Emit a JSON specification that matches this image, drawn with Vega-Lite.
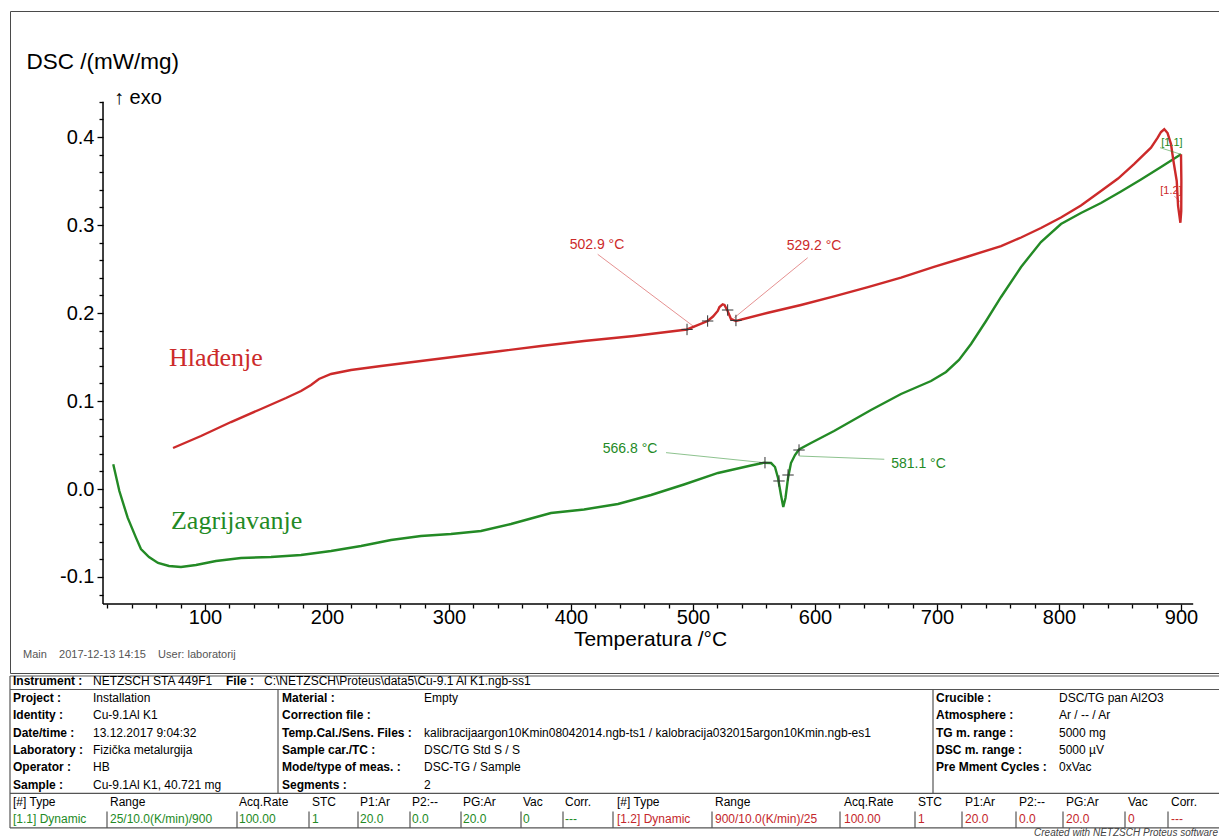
{
"$schema": "https://vega.github.io/schema/vega-lite/v6.json",
"background": "white",
"padding": {"left": 9, "top": 10, "right": 0, "bottom": 0},
"spacing": 0,
"config": {"view": {"stroke": null}, "font": "Liberation Sans"},
"datasets": {
"curves": [
{"s":"Zagrijavanje","i":1,"T":24.8,"v":0.0281},
{"s":"Zagrijavanje","i":2,"T":29.8,"v":-0.0023},
{"s":"Zagrijavanje","i":3,"T":36.6,"v":-0.0326},
{"s":"Zagrijavanje","i":4,"T":43.4,"v":-0.0553},
{"s":"Zagrijavanje","i":5,"T":47.5,"v":-0.0682},
{"s":"Zagrijavanje","i":6,"T":54.1,"v":-0.0773},
{"s":"Zagrijavanje","i":7,"T":61.5,"v":-0.0841},
{"s":"Zagrijavanje","i":8,"T":70.5,"v":-0.0875},
{"s":"Zagrijavanje","i":9,"T":80.3,"v":-0.0886},
{"s":"Zagrijavanje","i":10,"T":92.6,"v":-0.0864},
{"s":"Zagrijavanje","i":11,"T":109.0,"v":-0.0818},
{"s":"Zagrijavanje","i":12,"T":129.5,"v":-0.0784},
{"s":"Zagrijavanje","i":13,"T":154.1,"v":-0.0773},
{"s":"Zagrijavanje","i":14,"T":178.7,"v":-0.0750},
{"s":"Zagrijavanje","i":15,"T":203.3,"v":-0.0705},
{"s":"Zagrijavanje","i":16,"T":227.9,"v":-0.0648},
{"s":"Zagrijavanje","i":17,"T":252.5,"v":-0.0580},
{"s":"Zagrijavanje","i":18,"T":277.0,"v":-0.0534},
{"s":"Zagrijavanje","i":19,"T":301.6,"v":-0.0511},
{"s":"Zagrijavanje","i":20,"T":326.2,"v":-0.0477},
{"s":"Zagrijavanje","i":21,"T":350.8,"v":-0.0398},
{"s":"Zagrijavanje","i":22,"T":367.2,"v":-0.0335},
{"s":"Zagrijavanje","i":23,"T":383.6,"v":-0.0273},
{"s":"Zagrijavanje","i":24,"T":410.7,"v":-0.0233},
{"s":"Zagrijavanje","i":25,"T":438.5,"v":-0.0170},
{"s":"Zagrijavanje","i":26,"T":465.6,"v":-0.0068},
{"s":"Zagrijavanje","i":27,"T":492.6,"v":0.0051},
{"s":"Zagrijavanje","i":28,"T":520.5,"v":0.0182},
{"s":"Zagrijavanje","i":29,"T":547.5,"v":0.0267},
{"s":"Zagrijavanje","i":30,"T":558.2,"v":0.0299},
{"s":"Zagrijavanje","i":31,"T":564.0,"v":0.0295},
{"s":"Zagrijavanje","i":32,"T":567.2,"v":0.0250},
{"s":"Zagrijavanje","i":33,"T":569.7,"v":0.0125},
{"s":"Zagrijavanje","i":34,"T":572.1,"v":-0.0068},
{"s":"Zagrijavanje","i":35,"T":574.0,"v":-0.0205},
{"s":"Zagrijavanje","i":36,"T":575.8,"v":-0.0102},
{"s":"Zagrijavanje","i":37,"T":577.9,"v":0.0125},
{"s":"Zagrijavanje","i":38,"T":580.3,"v":0.0295},
{"s":"Zagrijavanje","i":39,"T":583.6,"v":0.0386},
{"s":"Zagrijavanje","i":40,"T":586.9,"v":0.0449},
{"s":"Zagrijavanje","i":41,"T":596.7,"v":0.0523},
{"s":"Zagrijavanje","i":42,"T":615.6,"v":0.0659},
{"s":"Zagrijavanje","i":43,"T":645.9,"v":0.0898},
{"s":"Zagrijavanje","i":44,"T":670.5,"v":0.1080},
{"s":"Zagrijavanje","i":45,"T":695.1,"v":0.1227},
{"s":"Zagrijavanje","i":46,"T":707.4,"v":0.1330},
{"s":"Zagrijavanje","i":47,"T":718.0,"v":0.1466},
{"s":"Zagrijavanje","i":48,"T":727.9,"v":0.1648},
{"s":"Zagrijavanje","i":49,"T":740.2,"v":0.1909},
{"s":"Zagrijavanje","i":50,"T":752.5,"v":0.2182},
{"s":"Zagrijavanje","i":51,"T":768.9,"v":0.2523},
{"s":"Zagrijavanje","i":52,"T":785.2,"v":0.2807},
{"s":"Zagrijavanje","i":53,"T":801.6,"v":0.3011},
{"s":"Zagrijavanje","i":54,"T":818.0,"v":0.3136},
{"s":"Zagrijavanje","i":55,"T":834.4,"v":0.3250},
{"s":"Zagrijavanje","i":56,"T":850.8,"v":0.3381},
{"s":"Zagrijavanje","i":57,"T":867.2,"v":0.3517},
{"s":"Zagrijavanje","i":58,"T":883.6,"v":0.3659},
{"s":"Zagrijavanje","i":59,"T":900.0,"v":0.3803},
{"s":"Hlađenje","i":1,"T":900.0,"v":0.3803},
{"s":"Hlađenje","i":2,"T":900.3,"v":0.3500},
{"s":"Hlađenje","i":3,"T":900.2,"v":0.3159},
{"s":"Hlađenje","i":4,"T":899.5,"v":0.3026},
{"s":"Hlađenje","i":5,"T":897.6,"v":0.3216},
{"s":"Hlađenje","i":6,"T":896.5,"v":0.3500},
{"s":"Hlađenje","i":7,"T":893.8,"v":0.3727},
{"s":"Hlađenje","i":8,"T":891.8,"v":0.3920},
{"s":"Hlađenje","i":9,"T":889.0,"v":0.4045},
{"s":"Hlađenje","i":10,"T":886.3,"v":0.4088},
{"s":"Hlađenje","i":11,"T":883.6,"v":0.4057},
{"s":"Hlađenje","i":12,"T":880.9,"v":0.3992},
{"s":"Hlađenje","i":13,"T":875.4,"v":0.3878},
{"s":"Hlađenje","i":14,"T":861.5,"v":0.3693},
{"s":"Hlađenje","i":15,"T":848.4,"v":0.3528},
{"s":"Hlađenje","i":16,"T":834.4,"v":0.3386},
{"s":"Hlađenje","i":17,"T":818.0,"v":0.3222},
{"s":"Hlađenje","i":18,"T":801.6,"v":0.3085},
{"s":"Hlađenje","i":19,"T":785.2,"v":0.2966},
{"s":"Hlađenje","i":20,"T":768.9,"v":0.2858},
{"s":"Hlađenje","i":21,"T":752.5,"v":0.2761},
{"s":"Hlađenje","i":22,"T":725.4,"v":0.2642},
{"s":"Hlađenje","i":23,"T":697.5,"v":0.2523},
{"s":"Hlađenje","i":24,"T":670.5,"v":0.2403},
{"s":"Hlađenje","i":25,"T":643.4,"v":0.2295},
{"s":"Hlađenje","i":26,"T":615.6,"v":0.2188},
{"s":"Hlađenje","i":27,"T":588.5,"v":0.2091},
{"s":"Hlađenje","i":28,"T":561.5,"v":0.2003},
{"s":"Hlađenje","i":29,"T":535.2,"v":0.1909},
{"s":"Hlađenje","i":30,"T":531.1,"v":0.1932},
{"s":"Hlađenje","i":31,"T":528.4,"v":0.2023},
{"s":"Hlađenje","i":32,"T":525.8,"v":0.2091},
{"s":"Hlađenje","i":33,"T":524.3,"v":0.2099},
{"s":"Hlađenje","i":34,"T":521.7,"v":0.2068},
{"s":"Hlađenje","i":35,"T":520.3,"v":0.2023},
{"s":"Hlađenje","i":36,"T":516.4,"v":0.1960},
{"s":"Hlađenje","i":37,"T":512.0,"v":0.1909},
{"s":"Hlađenje","i":38,"T":495.1,"v":0.1813},
{"s":"Hlađenje","i":39,"T":451.6,"v":0.1739},
{"s":"Hlađenje","i":40,"T":410.7,"v":0.1682},
{"s":"Hlađenje","i":41,"T":375.4,"v":0.1625},
{"s":"Hlađenje","i":42,"T":342.6,"v":0.1568},
{"s":"Hlađenje","i":43,"T":309.8,"v":0.1511},
{"s":"Hlađenje","i":44,"T":277.0,"v":0.1455},
{"s":"Hlađenje","i":45,"T":244.3,"v":0.1398},
{"s":"Hlađenje","i":46,"T":219.7,"v":0.1352},
{"s":"Hlađenje","i":47,"T":203.3,"v":0.1307},
{"s":"Hlađenje","i":48,"T":193.4,"v":0.1250},
{"s":"Hlađenje","i":49,"T":186.9,"v":0.1182},
{"s":"Hlađenje","i":50,"T":178.7,"v":0.1114},
{"s":"Hlađenje","i":51,"T":166.4,"v":0.1034},
{"s":"Hlađenje","i":52,"T":145.9,"v":0.0909},
{"s":"Hlađenje","i":53,"T":121.3,"v":0.0761},
{"s":"Hlađenje","i":54,"T":96.7,"v":0.0602},
{"s":"Hlađenje","i":55,"T":73.8,"v":0.0466}
],
"axisLines": [
{"T":16.4,"v":-0.1307,"T2":910,"v2":-0.1307},
{"T":16.4,"v":-0.1307,"T2":16.4,"v2":0.44}
],
"leaders": [
{"s":"Hlađenje","T":421.9,"v":0.2667,"T2":501.1,"v2":0.1841},
{"s":"Hlađenje","T":594.0,"v":0.2628,"T2":533.9,"v2":0.1947},
{"s":"Zagrijavanje","T":477.9,"v":0.0413,"T2":558.4,"v2":0.0299},
{"s":"Zagrijavanje","T":656.8,"v":0.0338,"T2":587.1,"v2":0.0375},
{"s":"Zagrijavanje","T":882.8,"v":0.3879,"T2":900,"v2":0.3803},
{"s":"Hlađenje","T":894.5,"v":0.333,"T2":900,"v2":0.3253}
],
"crosses": [
{"T":495.1,"v":0.1813},{"T":512.0,"v":0.1909},{"T":528.4,"v":0.2034},{"T":535.2,"v":0.1915},
{"T":559.0,"v":0.0299},{"T":570.5,"v":0.0091},{"T":577.9,"v":0.0159},{"T":586.9,"v":0.0443}
],
"labels": [
{"k":"name","s":"Hlađenje","t":"Hlađenje","T":70.5,"v":0.1489},
{"k":"name","s":"Zagrijavanje","t":"Zagrijavanje","T":72.1,"v":-0.0364},
{"k":"temp","s":"Hlađenje","t":"502.9 °C","T":421.3,"v":0.2773},
{"k":"temp","s":"Hlađenje","t":"529.2 °C","T":599.2,"v":0.2761},
{"k":"temp","s":"Zagrijavanje","t":"566.8 °C","T":448.4,"v":0.0455},
{"k":"temp","s":"Zagrijavanje","t":"581.1 °C","T":684.8,"v":0.0288},
{"k":"seg","s":"Zagrijavanje","t":"[1.1]","T":892.6,"v":0.3935},
{"k":"seg","s":"Hlađenje","t":"[1.2]","T":891.8,"v":0.3386}
],
"notes": [
{"k":"exo","t":"↑ exo","T":25.4,"v":0.4447},
{"k":"main","t":"Main\u00a0\u00a0\u00a0\u00a02017-12-13 14:15\u00a0\u00a0\u00a0\u00a0User: laboratorij","T":-49.2,"v":-0.1886}
],
"table": [
{"x":3,"r":0,"t":"Instrument :","k":"label"},
{"x":83,"r":0,"t":"NETZSCH STA 449F1","k":"value"},
{"x":216,"r":0,"t":"File :","k":"label"},
{"x":254,"r":0,"t":"C:\\NETZSCH\\Proteus\\data5\\Cu-9.1 Al K1.ngb-ss1","k":"value"},
{"x":3,"r":1,"t":"Project :","k":"label"},
{"x":83,"r":1,"t":"Installation","k":"value"},
{"x":272,"r":1,"t":"Material :","k":"label"},
{"x":414,"r":1,"t":"Empty","k":"value"},
{"x":926,"r":1,"t":"Crucible :","k":"label"},
{"x":1049,"r":1,"t":"DSC/TG pan Al2O3","k":"value"},
{"x":3,"r":2,"t":"Identity :","k":"label"},
{"x":83,"r":2,"t":"Cu-9.1Al K1","k":"value"},
{"x":272,"r":2,"t":"Correction file :","k":"label"},
{"x":926,"r":2,"t":"Atmosphere :","k":"label"},
{"x":1049,"r":2,"t":"Ar / -- / Ar","k":"value"},
{"x":3,"r":3,"t":"Date/time :","k":"label"},
{"x":83,"r":3,"t":"13.12.2017 9:04:32","k":"value"},
{"x":272,"r":3,"t":"Temp.Cal./Sens. Files :","k":"label"},
{"x":414,"r":3,"t":"kalibracijaargon10Kmin08042014.ngb-ts1 / kalobracija032015argon10Kmin.ngb-es1","k":"value"},
{"x":926,"r":3,"t":"TG m. range :","k":"label"},
{"x":1049,"r":3,"t":"5000 mg","k":"value"},
{"x":3,"r":4,"t":"Laboratory :","k":"label"},
{"x":83,"r":4,"t":"Fizička metalurgija","k":"value"},
{"x":272,"r":4,"t":"Sample car./TC :","k":"label"},
{"x":414,"r":4,"t":"DSC/TG Std S / S","k":"value"},
{"x":926,"r":4,"t":"DSC m. range :","k":"label"},
{"x":1049,"r":4,"t":"5000 µV","k":"value"},
{"x":3,"r":5,"t":"Operator :","k":"label"},
{"x":83,"r":5,"t":"HB","k":"value"},
{"x":272,"r":5,"t":"Mode/type of meas. :","k":"label"},
{"x":414,"r":5,"t":"DSC-TG / Sample","k":"value"},
{"x":926,"r":5,"t":"Pre Mment Cycles :","k":"label"},
{"x":1049,"r":5,"t":"0xVac","k":"value"},
{"x":3,"r":6,"t":"Sample :","k":"label"},
{"x":83,"r":6,"t":"Cu-9.1Al K1, 40.721 mg","k":"value"},
{"x":272,"r":6,"t":"Segments :","k":"label"},
{"x":414,"r":6,"t":"2","k":"value"},
{"x":3,"r":7,"t":"[#] Type","k":"value"},
{"x":100,"r":7,"t":"Range","k":"value"},
{"x":229,"r":7,"t":"Acq.Rate","k":"value"},
{"x":302,"r":7,"t":"STC","k":"value"},
{"x":350,"r":7,"t":"P1:Ar","k":"value"},
{"x":402,"r":7,"t":"P2:--","k":"value"},
{"x":453,"r":7,"t":"PG:Ar","k":"value"},
{"x":513,"r":7,"t":"Vac","k":"value"},
{"x":555,"r":7,"t":"Corr.","k":"value"},
{"x":607,"r":7,"t":"[#] Type","k":"value"},
{"x":705,"r":7,"t":"Range","k":"value"},
{"x":834,"r":7,"t":"Acq.Rate","k":"value"},
{"x":908,"r":7,"t":"STC","k":"value"},
{"x":955,"r":7,"t":"P1:Ar","k":"value"},
{"x":1009,"r":7,"t":"P2:--","k":"value"},
{"x":1056,"r":7,"t":"PG:Ar","k":"value"},
{"x":1118,"r":7,"t":"Vac","k":"value"},
{"x":1161,"r":7,"t":"Corr.","k":"value"},
{"x":3,"r":8,"t":"[1.1] Dynamic","k":"g"},
{"x":100,"r":8,"t":"25/10.0(K/min)/900","k":"g"},
{"x":229,"r":8,"t":"100.00","k":"g"},
{"x":302,"r":8,"t":"1","k":"g"},
{"x":350,"r":8,"t":"20.0","k":"g"},
{"x":402,"r":8,"t":"0.0","k":"g"},
{"x":453,"r":8,"t":"20.0","k":"g"},
{"x":513,"r":8,"t":"0","k":"g"},
{"x":555,"r":8,"t":"---","k":"g"},
{"x":607,"r":8,"t":"[1.2] Dynamic","k":"r"},
{"x":705,"r":8,"t":"900/10.0(K/min)/25","k":"r"},
{"x":834,"r":8,"t":"100.00","k":"r"},
{"x":908,"r":8,"t":"1","k":"r"},
{"x":955,"r":8,"t":"20.0","k":"r"},
{"x":1009,"r":8,"t":"0.0","k":"r"},
{"x":1056,"r":8,"t":"20.0","k":"r"},
{"x":1118,"r":8,"t":"0","k":"r"},
{"x":1161,"r":8,"t":"---","k":"r"},
{"x":1208,"r":8.78,"t":"Created with NETZSCH Proteus software","k":"note"}
],
"tlines": [
{"x":0,"x2":1210,"r":-0.28,"r2":-0.28},
{"x":0,"x2":1210,"r":0.5,"r2":0.5},
{"x":0,"x2":1210,"r":6.5,"r2":6.5},
{"x":0,"x2":1210,"r":8.5,"r2":8.5},
{"x":0,"x2":0,"r":-0.28,"r2":8.5},
{"x":268,"x2":268,"r":0.5,"r2":6.5},
{"x":923,"x2":923,"r":0.5,"r2":6.5},
{"x":97,"x2":97,"r":7.55,"r2":8.5},
{"x":227,"x2":227,"r":7.55,"r2":8.5},
{"x":299,"x2":299,"r":7.55,"r2":8.5},
{"x":348,"x2":348,"r":7.55,"r2":8.5},
{"x":400,"x2":400,"r":7.55,"r2":8.5},
{"x":451,"x2":451,"r":7.55,"r2":8.5},
{"x":511,"x2":511,"r":7.55,"r2":8.5},
{"x":553,"x2":553,"r":7.55,"r2":8.5},
{"x":603,"x2":603,"r":7.55,"r2":8.5},
{"x":702,"x2":702,"r":7.55,"r2":8.5},
{"x":830,"x2":830,"r":7.55,"r2":8.5},
{"x":905,"x2":905,"r":7.55,"r2":8.5},
{"x":952,"x2":952,"r":7.55,"r2":8.5},
{"x":1006,"x2":1006,"r":7.55,"r2":8.5},
{"x":1053,"x2":1053,"r":7.55,"r2":8.5},
{"x":1115,"x2":1115,"r":7.55,"r2":8.5},
{"x":1158,"x2":1158,"r":7.55,"r2":8.5}
]
},
"vconcat": [
{
"width": 1210,
"height": 662,
"view": {"stroke": "#4a4a4a", "strokeWidth": 1},
"encoding": {
"x": {"field": "T", "type": "quantitative",
 "scale": {"domain": [-59.836, 931.967], "nice": false, "zero": false},
 "axis": {"orient": "bottom", "offset": -69, "domain": false, "grid": false,
  "values": [20,40,60,80,100,120,140,160,180,200,220,240,260,280,300,320,340,360,380,400,420,440,460,480,500,520,540,560,580,600,620,640,660,680,700,720,740,760,780,800,820,840,860,880,900],
  "tickSize": {"condition": {"test": "datum.value % 100 === 0", "value": 7}, "value": 4},
  "tickColor": "#000", "tickWidth": 1.3,
  "labelExpr": "datum.value % 100 === 0 ? datum.label : ''",
  "labelFont": "Liberation Sans", "labelFontSize": 20, "labelColor": "#000", "labelPadding": -4,
  "labelOverlap": false, "labelFlush": false, "labelBound": false,
  "title": "Temperatura /°C", "titleFont": "Liberation Sans", "titleFontSize": 21, "titleFontWeight": "normal", "titleColor": "#000",
  "titleX": 640, "titleY": 35, "titleAlign": "center", "titleBaseline": "middle"}},
"y": {"field": "v", "type": "quantitative",
 "scale": {"domain": [-0.209091, 0.543182], "nice": false, "zero": false},
 "axis": {"orient": "left", "offset": -93, "domain": false, "grid": false,
  "values": [-0.12,-0.1,-0.08,-0.06,-0.04,-0.02,0,0.02,0.04,0.06,0.08,0.1,0.12,0.14,0.16,0.18,0.2,0.22,0.24,0.26,0.28,0.3,0.32,0.34,0.36,0.38,0.4,0.42,0.44],
  "tickSize": {"condition": {"test": "abs(datum.value*10 - round(datum.value*10)) < 0.001", "value": 6}, "value": 4},
  "tickColor": "#000", "tickWidth": 1.3,
  "labelExpr": "abs(datum.value*10 - round(datum.value*10)) < 0.001 ? (datum.value < -0.001 ? '-' : '') + format(abs(datum.value), '.1f') : ''",
  "labelFont": "Liberation Sans", "labelFontSize": 20, "labelColor": "#000", "labelPadding": 3,
  "labelOverlap": false, "labelBound": false,
  "title": "DSC /(mW/mg)", "titleFont": "Liberation Sans", "titleFontSize": 22.5, "titleFontWeight": "normal", "titleColor": "#000",
  "titleAngle": 0, "titleAlign": "left", "titleBaseline": "middle", "titleX": -77, "titleY": 50}}
},
"layer": [
{"data": {"name": "axisLines"}, "mark": {"type": "rule", "color": "#000", "strokeWidth": 1.5},
 "encoding": {"x2": {"field": "T2"}, "y2": {"field": "v2"}}},
{"data": {"name": "curves"}, "mark": {"type": "line", "strokeWidth": 2.4},
 "encoding": {"color": {"field": "s", "type": "nominal", "scale": {"domain": ["Zagrijavanje", "Hlađenje"], "range": ["#238a25", "#cc2a2a"]}, "legend": null},
  "order": {"field": "i", "type": "quantitative"}}},
{"data": {"name": "leaders"}, "mark": {"type": "rule", "strokeWidth": 0.8, "opacity": 0.65},
 "encoding": {"x2": {"field": "T2"}, "y2": {"field": "v2"},
  "color": {"field": "s", "type": "nominal", "scale": {"domain": ["Zagrijavanje", "Hlađenje"], "range": ["#238a25", "#cc2a2a"]}, "legend": null}}},
{"data": {"name": "crosses"}, "mark": {"type": "point", "shape": "M-1,0L1,0M0,-1L0,1", "size": 130, "filled": false, "stroke": "#333", "strokeWidth": 1, "opacity": 1}},
{"data": {"name": "labels"}, "transform": [{"filter": "datum.k === 'name'"}],
 "mark": {"type": "text", "align": "left", "baseline": "middle", "font": "Liberation Serif", "fontSize": 26},
 "encoding": {"text": {"field": "t"},
  "color": {"field": "s", "type": "nominal", "scale": {"domain": ["Zagrijavanje", "Hlađenje"], "range": ["#238a25", "#cc2a2a"]}, "legend": null}}},
{"data": {"name": "labels"}, "transform": [{"filter": "datum.k === 'temp'"}],
 "mark": {"type": "text", "align": "center", "baseline": "middle", "font": "Liberation Sans", "fontSize": 14},
 "encoding": {"text": {"field": "t"},
  "color": {"field": "s", "type": "nominal", "scale": {"domain": ["Zagrijavanje", "Hlađenje"], "range": ["#238a25", "#cc2a2a"]}, "legend": null}}},
{"data": {"name": "labels"}, "transform": [{"filter": "datum.k === 'seg'"}],
 "mark": {"type": "text", "align": "center", "baseline": "middle", "font": "Liberation Sans", "fontSize": 11},
 "encoding": {"text": {"field": "t"},
  "color": {"field": "s", "type": "nominal", "scale": {"domain": ["Zagrijavanje", "Hlađenje"], "range": ["#238a25", "#cc2a2a"]}, "legend": null}}},
{"data": {"name": "notes"}, "transform": [{"filter": "datum.k === 'exo'"}],
 "mark": {"type": "text", "align": "left", "baseline": "middle", "font": "Liberation Sans", "fontSize": 20, "color": "#000"},
 "encoding": {"text": {"field": "t"}}},
{"data": {"name": "notes"}, "transform": [{"filter": "datum.k === 'main'"}],
 "mark": {"type": "text", "align": "left", "baseline": "middle", "font": "Liberation Sans", "fontSize": 11, "color": "#555"},
 "encoding": {"text": {"field": "t"}}}
]
},
{
"width": 1210,
"height": 164,
"encoding": {
"x": {"field": "x", "type": "quantitative", "scale": {"domain": [0, 1210], "nice": false, "zero": false}, "axis": null},
"y": {"field": "r", "type": "quantitative", "scale": {"domain": [-0.28, 9.2], "nice": false, "zero": false, "reverse": true}, "axis": null}
},
"layer": [
{"data": {"name": "tlines"}, "mark": {"type": "rule", "color": "#555", "strokeWidth": 1.2},
 "encoding": {"x2": {"field": "x2"}, "y2": {"field": "r2"}}},
{"data": {"name": "table"}, "transform": [{"filter": "datum.k === 'label'"}],
 "mark": {"type": "text", "align": "left", "baseline": "middle", "font": "Liberation Sans", "fontSize": 12, "fontWeight": "bold", "color": "#000"},
 "encoding": {"text": {"field": "t"}}},
{"data": {"name": "table"}, "transform": [{"filter": "datum.k === 'value'"}],
 "mark": {"type": "text", "align": "left", "baseline": "middle", "font": "Liberation Sans", "fontSize": 12, "color": "#000"},
 "encoding": {"text": {"field": "t"}}},
{"data": {"name": "table"}, "transform": [{"filter": "datum.k === 'g'"}],
 "mark": {"type": "text", "align": "left", "baseline": "middle", "font": "Liberation Sans", "fontSize": 12, "color": "#238a25"},
 "encoding": {"text": {"field": "t"}}},
{"data": {"name": "table"}, "transform": [{"filter": "datum.k === 'r'"}],
 "mark": {"type": "text", "align": "left", "baseline": "middle", "font": "Liberation Sans", "fontSize": 12, "color": "#c4262b"},
 "encoding": {"text": {"field": "t"}}},
{"data": {"name": "table"}, "transform": [{"filter": "datum.k === 'note'"}],
 "mark": {"type": "text", "align": "right", "baseline": "middle", "font": "Liberation Sans", "fontSize": 10, "fontStyle": "italic", "color": "#444"},
 "encoding": {"text": {"field": "t"}}}
]
}
]
}
